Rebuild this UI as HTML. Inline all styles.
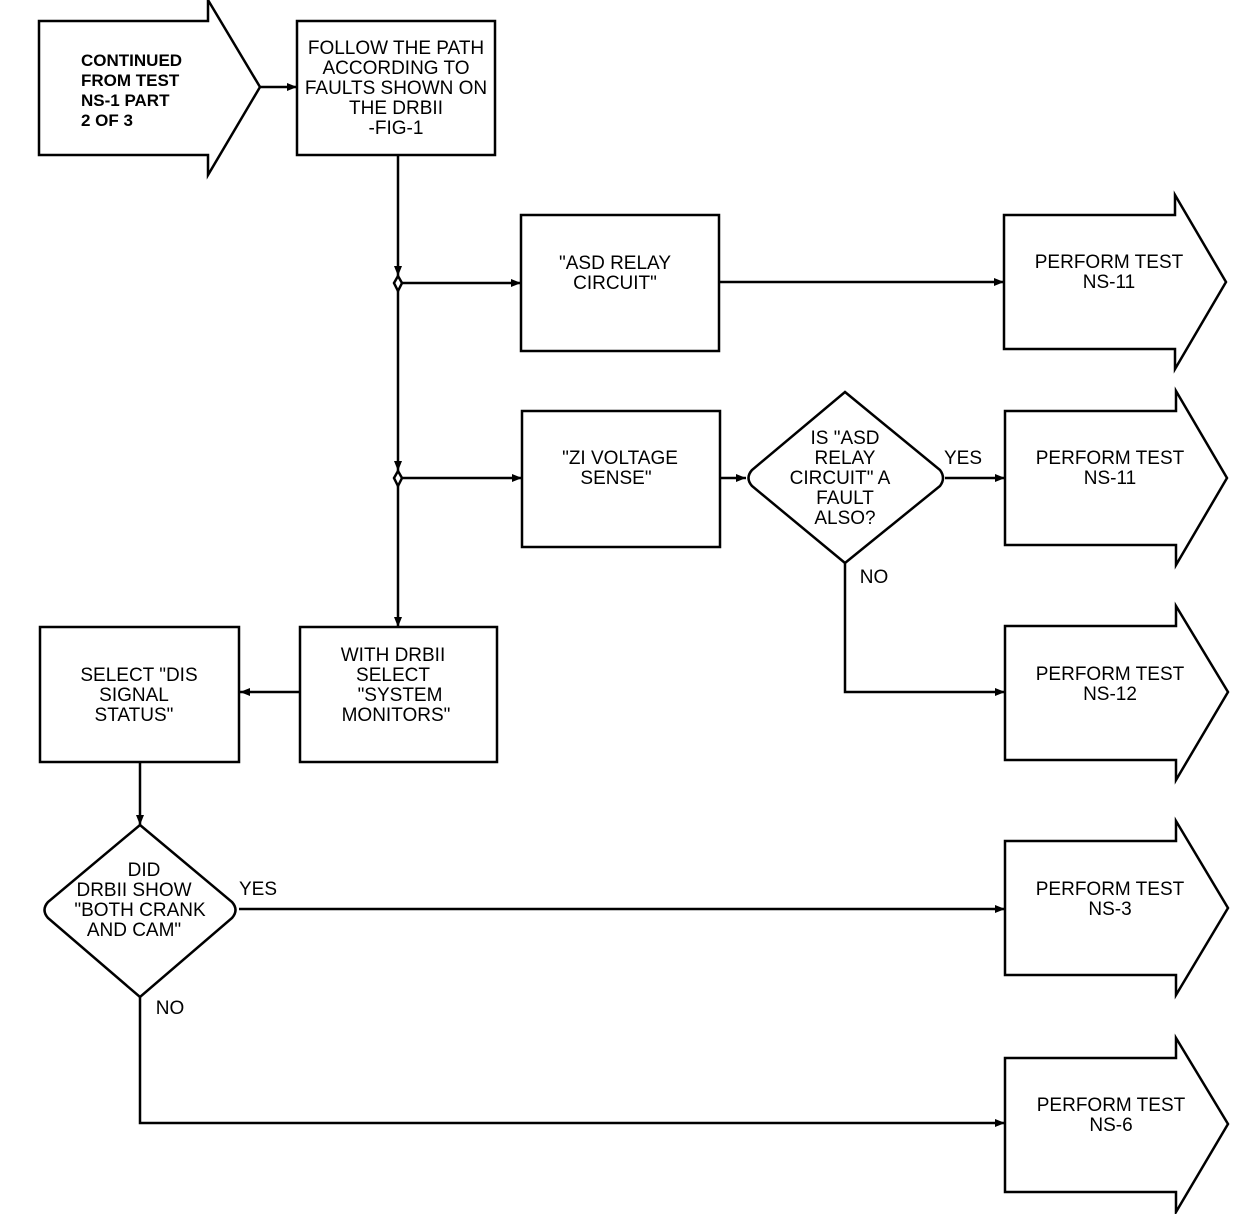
<!DOCTYPE html>
<html><head><meta charset="utf-8"><style>
html,body{margin:0;padding:0;background:#fff}
svg{display:block}
text{font-family:"Liberation Sans",sans-serif;font-size:19px;fill:#000;text-anchor:middle}
.b{font-weight:bold;font-size:17px;text-anchor:start}
</style></head><body>
<svg width="1248" height="1214" viewBox="0 0 1248 1214" xmlns="http://www.w3.org/2000/svg">
<defs><marker id="a" markerWidth="10" markerHeight="8" refX="10" refY="4" orient="auto" markerUnits="userSpaceOnUse"><path d="M0,0 L10,4 L0,8z" fill="#000"/></marker></defs>
<g fill="none" stroke="#000" stroke-width="2.5">
<path d="M39,21 H208 V0 L260,87 L208,175 V155 H39 Z"/>
<rect x="297" y="21" width="198" height="134"/>
<rect x="521" y="215" width="198" height="136"/>
<rect x="522" y="411" width="198" height="136"/>
<rect x="300" y="627" width="197" height="135"/>
<rect x="40" y="627" width="199" height="135"/>
<path d="M1004,215 H1175 V195 L1226,282 L1175,369 V349 H1004 Z"/>
<path d="M1005,411 H1176 V391 L1227,478 L1176,565 V545 H1005 Z"/>
<path d="M1005,626 H1176 V606 L1228,692 L1176,780 V760 H1005 Z"/>
<path d="M1005,841 H1176 V821 L1228,908 L1176,995 V975 H1005 Z"/>
<path d="M1005,1058 H1176 V1038 L1228,1124 L1176,1212 V1192 H1005 Z"/>
<path d="M845,392 L940,470 Q946,478 940,486 L845,563 L752,486 Q745,478 752,470 Z"/>
<path d="M140,825 L232,902 Q239,910 232,918 L140,997 L48,918 Q41,910 48,902 Z"/>
<path d="M398,276 L402,283 L398,291 L394,283 Z"/>
<path d="M398,471 L402,478 L398,486 L394,478 Z"/>
<line x1="260" y1="87" x2="297" y2="87" marker-end="url(#a)"/>
<line x1="398" y1="155" x2="398" y2="276" marker-end="url(#a)"/>
<line x1="398" y1="291" x2="398" y2="471" marker-end="url(#a)"/>
<line x1="398" y1="486" x2="398" y2="627" marker-end="url(#a)"/>
<line x1="402" y1="283" x2="521" y2="283" marker-end="url(#a)"/>
<line x1="402" y1="478" x2="522" y2="478" marker-end="url(#a)"/>
<line x1="719" y1="282" x2="1004" y2="282" marker-end="url(#a)"/>
<line x1="720" y1="478" x2="746" y2="478" marker-end="url(#a)"/>
<line x1="945" y1="478" x2="1005" y2="478" marker-end="url(#a)"/>
<polyline points="845,563 845,692 1005,692" marker-end="url(#a)"/>
<line x1="300" y1="692" x2="240" y2="692" marker-end="url(#a)"/>
<line x1="140" y1="762" x2="140" y2="825" marker-end="url(#a)"/>
<line x1="239" y1="909" x2="1005" y2="909" marker-end="url(#a)"/>
<polyline points="140,997 140,1123 1005,1123" marker-end="url(#a)"/>
</g>
<text class="b" x="81" y="66">CONTINUED</text>
<text class="b" x="81" y="86">FROM TEST</text>
<text class="b" x="81" y="106">NS-1 PART</text>
<text class="b" x="81" y="126">2 OF 3</text>
<text x="396" y="54">FOLLOW THE PATH</text>
<text x="396" y="74">ACCORDING TO</text>
<text x="396" y="94">FAULTS SHOWN ON</text>
<text x="396" y="114">THE DRBII</text>
<text x="396" y="134">-FIG-1</text>
<text x="615" y="269">"ASD RELAY</text>
<text x="615" y="289">CIRCUIT"</text>
<text x="620" y="464">"ZI VOLTAGE</text>
<text x="616" y="484">SENSE"</text>
<text x="845" y="444">IS "ASD</text>
<text x="845" y="464">RELAY</text>
<text x="840" y="484">CIRCUIT" A</text>
<text x="845" y="504">FAULT</text>
<text x="845" y="524">ALSO?</text>
<text x="963" y="464">YES</text>
<text x="874" y="583">NO</text>
<text x="1109" y="268">PERFORM TEST</text>
<text x="1109" y="288">NS-11</text>
<text x="1110" y="464">PERFORM TEST</text>
<text x="1110" y="484">NS-11</text>
<text x="1110" y="680">PERFORM TEST</text>
<text x="1110" y="700">NS-12</text>
<text x="1110" y="895">PERFORM TEST</text>
<text x="1110" y="915">NS-3</text>
<text x="1111" y="1111">PERFORM TEST</text>
<text x="1111" y="1131">NS-6</text>
<text x="393" y="661">WITH DRBII</text>
<text x="393" y="681">SELECT</text>
<text x="400" y="701">"SYSTEM</text>
<text x="396" y="721">MONITORS"</text>
<text x="139" y="681">SELECT "DIS</text>
<text x="134" y="701">SIGNAL</text>
<text x="134" y="721">STATUS"</text>
<text x="144" y="876">DID</text>
<text x="134" y="896">DRBII SHOW</text>
<text x="140" y="916">"BOTH CRANK</text>
<text x="134" y="936">AND CAM"</text>
<text x="258" y="895">YES</text>
<text x="170" y="1014">NO</text>
</svg>
</body></html>
